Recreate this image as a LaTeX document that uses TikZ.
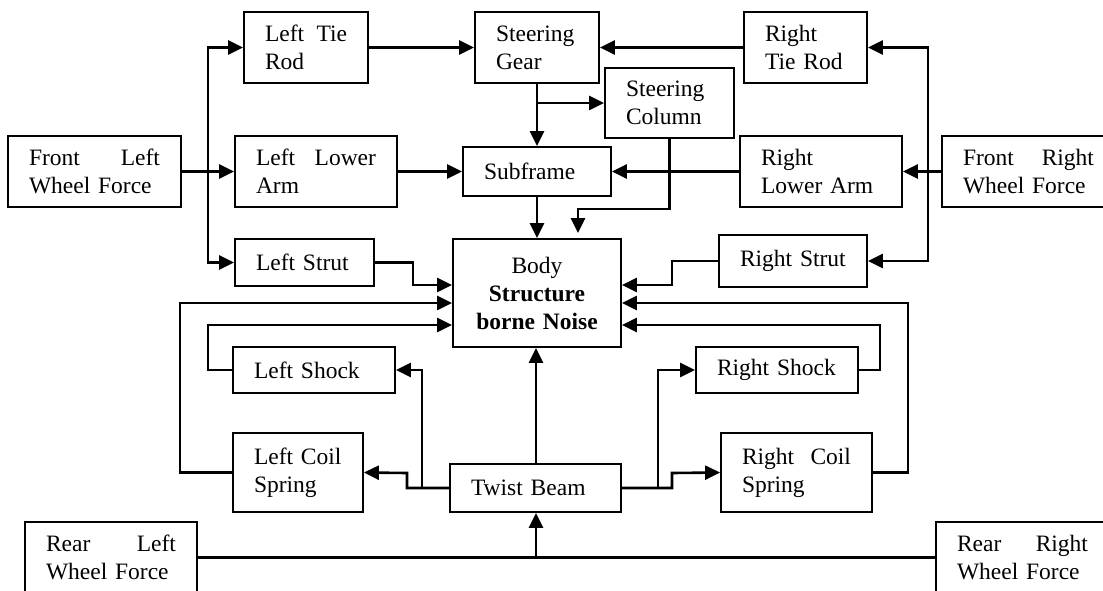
\documentclass[tikz,border=0pt]{standalone}
\usepackage{fontspec}
\setmainfont{Liberation Serif}
\usetikzlibrary{arrows.meta}
\begin{document}
\begin{tikzpicture}[x=1pt,y=-1pt,
  box/.style={draw,line width=1.8pt,rectangle,inner xsep=21pt,inner ysep=0pt,
    align=left,font=\fontsize{23.5}{28}\selectfont},
  conn/.style={line width=2.6pt},
  arr/.style={conn,-{Triangle[length=15pt,width=14pt]}}]
\fill[white] (0,0) rectangle (1103,590);
\useasboundingbox (0,0) rectangle (1103,590);
% nodes
\node[box,text width=131pt,minimum height=71pt] (FLWF) at (94.5,171.5) {Front\hfill Left\\Wheel Force};
\node[box,text width=82pt,minimum height=71pt] (LTR) at (306,47.5) {Left\hfill Tie\\Rod};
\node[box,text width=120pt,minimum height=71pt] (LLA) at (316,171.5) {Left\hfill Lower\\Arm};
\node[box,text width=97pt,minimum height=47pt] (LS) at (304.5,262.5) {Left Strut};
\node[box,text width=82pt,minimum height=71pt] (SG) at (537,47.5) {Steering\\Gear};
\node[box,text width=87pt,minimum height=70pt] (SC) at (669.5,103) {Steering\\Column};
\node[box,text width=106pt,minimum height=49pt] (SF) at (537,171.5) {Subframe};
\node[box,text width=126pt,minimum height=108pt,align=center] (Body) at (537,293) {Body\\\textbf{Structure}\\\textbf{borne Noise}};
\node[box,text width=81pt,minimum height=71pt] (RTR) at (805.5,47.5) {Right\\Tie Rod};
\node[box,text width=120pt,minimum height=71pt] (RLA) at (821,171.5) {Right\\Lower Arm};
\node[box,text width=106pt,minimum height=52pt] (RS) at (793,261) {Right Strut};
\node[box,text width=131pt,minimum height=71pt] (FRWF) at (1028.5,171.5) {Front\hfill Right\\Wheel Force};
\node[box,text width=120pt,minimum height=46pt] (LSh) at (314,370) {Left Shock};
\node[box,text width=88pt,minimum height=79pt] (LCS) at (298,472.5) {Left Coil\\Spring};
\node[box,text width=129pt,minimum height=48pt] (TB) at (535.5,488) {Twist Beam};
\node[box,text width=120pt,minimum height=46pt] (RSh) at (777,370) {Right Shock};
\node[box,text width=109pt,minimum height=79pt] (RCS) at (796.5,472.5) {Right\hfill Coil\\Spring};
\node[box,text width=130pt,minimum height=71pt] (RLWF) at (111,557.5) {Rear\hfill Left\\Wheel Force};
\node[box,text width=131pt,minimum height=71pt] (RRWF) at (1022.5,557.5) {Rear\hfill Right\\Wheel Force};
% coordinates
\coordinate (lb) at (208,171.5);
\coordinate (rb) at (928,171.5);
\coordinate (cb) at (578,209);
\coordinate (ls1) at (413,285);
\coordinate (rs1) at (672,285);
\coordinate (lo) at (180,303);
\coordinate (li) at (208,325);
\coordinate (ro) at (908,303);
\coordinate (ri) at (880,325);
\coordinate (tl1) at (422,370);
\coordinate (tl2) at (407,473);
\coordinate (tr1) at (658,370);
\coordinate (tr2) at (672,473);
\coordinate (tbx) at (536,488);
% front left
\draw[arr] (FLWF.east) -- (LLA.west);
\draw[arr] (lb) |- (LTR.west);
\draw[arr] (lb) |- (LS.west);
% front right
\draw[arr] (FRWF.west) -- (RLA.east);
\draw[arr] (rb) |- (RTR.east);
\draw[arr] (rb) |- (RS.east);
% steering
\draw[arr] (LTR.east) -- (SG.west);
\draw[arr] (RTR.west) -- (SG.east);
\draw[arr] (SG.south) -- (SF.north);
\draw[arr] (SG.south |- SC.west) -- (SC.west);
\draw[arr] (LLA.east) -- (SF.west);
\draw[arr] (RLA.west) -- (SF.east);
\draw[arr] (SF.south) -- (Body.north);
\draw[arr,shorten >=5pt] (SC.south) |- (cb) -- (cb |- Body.north);
% struts
\draw[arr] (LS.east) -| (ls1) -- (ls1 -| Body.west);
\draw[arr] (RS.west) -| (rs1) -- (rs1 -| Body.east);
% loops
\draw[arr] (LCS.west) -| (lo) -- (lo -| Body.west);
\draw[arr] (LSh.west) -| (li) -- (li -| Body.west);
\draw[arr] (RCS.east) -| (ro) -- (ro -| Body.east);
\draw[arr] (RSh.east) -| (ri) -- (ri -| Body.east);
% twist beam
\draw[arr] (tbx |- TB.north) -- (tbx |- Body.south);
\draw[arr] (TB.west) -| (tl1) -- (LSh.east);
\draw[arr] (TB.west) -| (tl2) -- (LCS.east);
\draw[arr] (TB.east) -| (tr1) -- (RSh.west);
\draw[arr] (TB.east) -| (tr2) -- (RCS.west);
% rear
\draw[conn] (RLWF.east) -- (RRWF.west);
\draw[arr] (tbx |- RLWF.east) -- (tbx |- TB.south);
\end{tikzpicture}
\end{document}
